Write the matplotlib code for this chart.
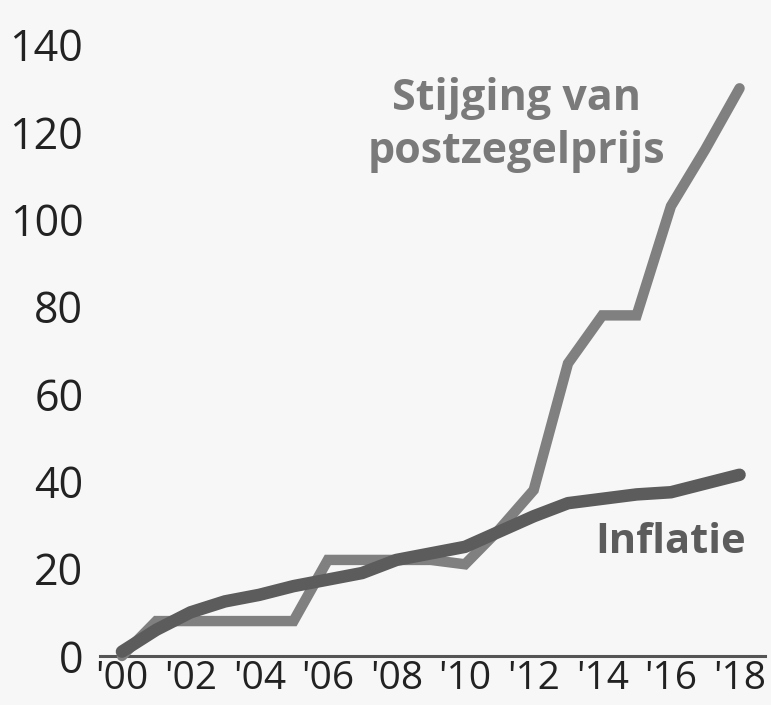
import matplotlib
matplotlib.use("Agg")
import matplotlib.pyplot as plt

years = list(range(2000, 2019))
postzegel = [0, 8, 8, 8, 8, 8, 22, 22, 22, 22, 21, 29, 38, 67, 78, 78, 103, 116, 130]
inflatie = [1, 6, 10, 12.5, 14, 16, 17.5, 19, 22, 23.5, 25, 28.5, 32, 35, 36, 37, 37.5, 39.5, 41.5]
xtick_years = list(range(2000, 2019, 2))
xtick_labels = ["'%02d" % (y % 100) for y in xtick_years]
yticks = [0, 20, 40, 60, 80, 100, 120, 140]

bg = "#f7f7f7"
plt.rcParams['font.family'] = ['Open Sans', 'DejaVu Sans']
fig = plt.figure(figsize=(7.71, 7.05), dpi=100, facecolor=bg)
ax = fig.add_axes([0.1297, 0.0695, 0.862, 0.9025], facecolor=bg)

ax.plot(years, postzegel, color="#808080", lw=7.5, solid_joinstyle="miter",
        solid_capstyle="round", clip_on=False, zorder=2)
ax.plot(years, inflatie, color="#5c5c5c", lw=9, solid_capstyle="round",
        clip_on=False, zorder=3)

ax.set_xlim(2000 - 0.64, 2018.73)
ax.set_ylim(0, 145.7)
ax.set_xticks(xtick_years)
ax.set_xticklabels(xtick_labels)
ax.set_yticks(yticks)
ax.tick_params(axis="both", length=0, colors="#222222")
ax.tick_params(axis="x", pad=3, labelsize=28)
ax.tick_params(axis="y", pad=12, labelsize=31)
for s in ["top", "right", "left"]:
    ax.spines[s].set_visible(False)
ax.spines["bottom"].set_color("#555555")
ax.spines["bottom"].set_linewidth(2.2)
ax.spines["bottom"].set_zorder(1)

ax.text(2011.5, 121.5, "Stijging van\npostzegelprijs", ha="center", va="center",
        fontsize=31, fontweight="bold", color="#7a7a7a", linespacing=1.3)
ax.text(2016.0, 25.9, "Inflatie", ha="center", va="center",
        fontsize=30, fontweight="bold", color="#5c5c5c")

fig.savefig("out.png", dpi=100, facecolor=bg)
